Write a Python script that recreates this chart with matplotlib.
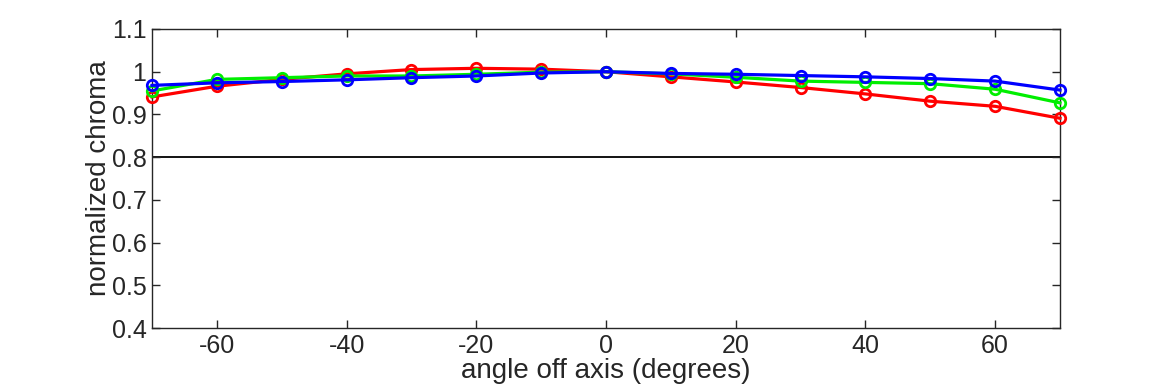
import matplotlib
matplotlib.use("Agg")
import matplotlib.pyplot as plt

angles = [-70, -60, -50, -40, -30, -20, -10, 0, 10, 20, 30, 40, 50, 60, 70]
red = [0.941, 0.966, 0.982, 0.995, 1.005, 1.008, 1.006, 1.0, 0.988, 0.976, 0.963, 0.948, 0.931, 0.919, 0.891]
green = [0.955, 0.982, 0.986, 0.99, 0.99, 0.994, 0.999, 1.0, 0.995, 0.987, 0.978, 0.975, 0.972, 0.959, 0.927]
blue = [0.968, 0.974, 0.977, 0.981, 0.986, 0.99, 0.997, 1.0, 0.996, 0.994, 0.991, 0.988, 0.984, 0.978, 0.957]
xticks = [-60, -40, -20, 0, 20, 40, 60]
yticks = [0.4, 0.5, 0.6, 0.7, 0.8, 0.9, 1.0, 1.1]
ytick_labels = ["0.4", "0.5", "0.6", "0.7", "0.8", "0.9", "1", "1.1"]

plt.rcParams['font.family'] = ['Liberation Sans', 'DejaVu Sans']
plt.rcParams['axes.unicode_minus'] = False
fig = plt.figure(figsize=(11.7, 3.9), dpi=100)
ax = fig.add_axes([152/1170, 1 - 328/390, (1060-152)/1170, (328-29)/390])

ax.axhline(0.8, color='black', lw=1.3, zorder=1)
for vals, col in [(red, '#ff0000'), (green, '#00ee00'), (blue, '#0000ff')]:
    ax.plot(angles, vals, color=col, lw=2.3, marker='o', ms=7.5, mfc='none', mew=2, zorder=3, clip_on=False)

ax.set_xlim(-70, 70)
ax.set_ylim(0.4, 1.1)
ax.set_xticks(xticks)
ax.set_yticks(yticks)
ax.set_yticklabels(ytick_labels)
ax.tick_params(direction='in', top=True, right=True, labelsize=18, colors='#262626', length=6, width=1, pad=4)
for s in ax.spines.values():
    s.set_color('#262626')
    s.set_linewidth(1)
ax.set_xlabel('angle off axis (degrees)', fontsize=20, color='#262626', labelpad=0)
ax.set_ylabel('normalized chroma', fontsize=20, color='#262626', labelpad=0)
fig.savefig('out.png', dpi=100)
